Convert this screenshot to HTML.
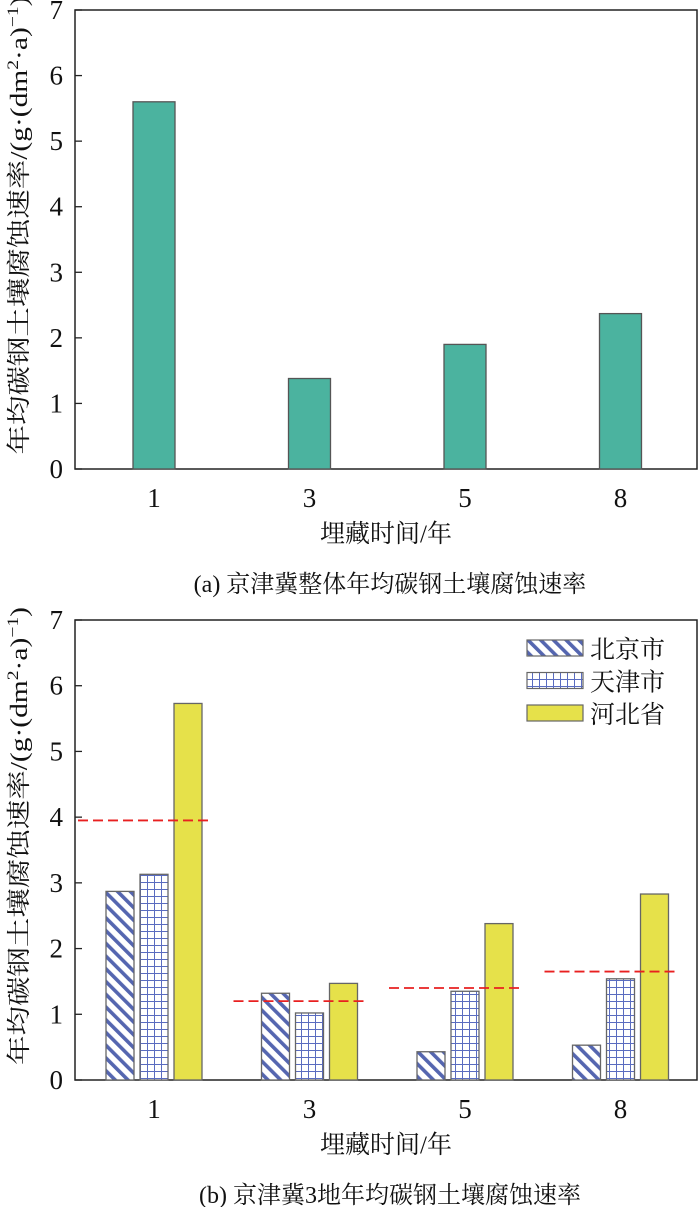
<!DOCTYPE html>
<html><head><meta charset="utf-8">
<style>
html,body{margin:0;padding:0;background:#fff;}
svg text{font-family:"Liberation Serif","Noto Serif CJK SC",serif;fill:#111;}
</style></head>
<body>
<svg id="root" width="700" height="1207" viewBox="0 0 700 1207" xmlns="http://www.w3.org/2000/svg">
<defs>
<pattern id="hatch" patternUnits="userSpaceOnUse" width="9" height="9" patternTransform="rotate(-45)">
<rect width="9" height="9" fill="#fff"/><rect x="0" y="0" width="3.6" height="9" fill="#5566b0"/>
</pattern>
<pattern id="grid" patternUnits="userSpaceOnUse" width="7" height="7" x="0" y="0">
<rect width="7" height="7" fill="#fff"/><path d="M0 0.5H7M0.5 0V7" stroke="#5a6cc0" stroke-width="1"/>
</pattern>
</defs>
<g id="chartA"></g>
<g id="chartB"></g>
</svg>
<script>
const catsA = ["1","3","5","8"];
const valsA = [5.6, 1.38, 1.9, 2.37];
const catsB = ["1","3","5","8"];
const beijing = [2.87, 1.32, 0.43, 0.53];
const tianjin = [3.13, 1.02, 1.35, 1.54];
const hebei = [5.73, 1.47, 2.38, 2.83];
const meanB = [3.95, 1.2, 1.4, 1.65];
const yTicks = [0,1,2,3,4,5,6,7];
const seriesNames = ["北京市","天津市","河北省"];

const NS="http://www.w3.org/2000/svg";
function mk(parent, tag, attrs, text){
  const e=document.createElementNS(NS,tag);
  for(const k in attrs) e.setAttribute(k,attrs[k]);
  if(text!==undefined) e.textContent=text;
  parent.appendChild(e); return e;
}
function makeAxes(g, top, bottom, left, right, cats, caption){
  const y=v=>bottom-(v/7)*(bottom-top);
  const x=i=>left+79+i*155.5;
  const frame=mk(g,'rect',{x:left,y:top,width:right-left,height:bottom-top,fill:'none',stroke:'#222','stroke-width':1.5});
  
  
  yTicks.forEach(t=>{
    const l=mk(g,'line',{x1:left,x2:left+7,y1:y(t),y2:y(t),stroke:'#222','stroke-width':1.3});
    
    
    const tx=mk(g,'text',{x:left-12,y:y(t)+9,'font-size':27,'text-anchor':'end'},String(t));
    
    
  });
  cats.forEach((c,i)=>{
    const l=mk(g,'line',{x1:x(i),x2:x(i),y1:bottom,y2:bottom-7,stroke:'#222','stroke-width':1.3});
    
    
    const tx=mk(g,'text',{x:x(i),y:bottom+38,'font-size':27,'text-anchor':'middle'},c);
    
    
  });
  const xt=mk(g,'text',{x:(left+right)/2,y:bottom+73,'font-size':25,'text-anchor':'middle'},'埋藏时间/年');
  
  
  const yt=mk(g,'text',{x:0,y:0,'font-size':24,'text-anchor':'middle',textLength:458,lengthAdjust:'spacingAndGlyphs',transform:`translate(27,${(top+bottom)/2-14}) rotate(-90)`});
  
  
  yt.innerHTML='年均碳钢土壤腐蚀速率/(g·(dm<tspan dy="-9" font-size="16">2</tspan><tspan dy="9">·a)</tspan><tspan dy="-9" font-size="16">−1</tspan><tspan dy="9">)</tspan>';
  const cap=mk(g,'text',{x:390,y:bottom+123,'font-size':24,'text-anchor':'middle'},caption);
  
  
  return {x,y};
}
const gA=document.getElementById('chartA');
const A=makeAxes(gA,10,469,75,697,catsA,'(a) 京津冀整体年均碳钢土壤腐蚀速率');
valsA.forEach((v,i)=>{
  const r=mk(gA,'rect',{x:A.x(i)-21,y:A.y(v),width:42,height:A.y(0)-A.y(v),fill:'#4bb39f',stroke:'#555','stroke-width':1.3});
  
  
});
const gB=document.getElementById('chartB');
const B=makeAxes(gB,620,1080,75,697,catsB,'(b) 京津冀3地年均碳钢土壤腐蚀速率');
const series=[beijing,tianjin,hebei];
const fills=['url(#hatch)','url(#grid)','#e6e14a'];
const offs=[-34,0,34];
series.forEach((s,si)=>{
  s.forEach((v,i)=>{
    const r=mk(gB,'rect',{x:B.x(i)+offs[si]-14,y:B.y(v),width:28,height:B.y(0)-B.y(v),fill:fills[si],stroke:'#666','stroke-width':1.3});
    
    
  });
});
meanB.forEach((v,i)=>{
  const l=mk(gB,'line',{x1:B.x(i)-76,x2:B.x(i)+55,y1:B.y(v),y2:B.y(v),stroke:'#e82020','stroke-width':1.8,'stroke-dasharray':'10 5'});
  
  
});
seriesNames.forEach((n,i)=>{
  const yy=640+i*32.5;
  const r=mk(gB,'rect',{x:527,y:yy,width:56,height:16,fill:fills[i],stroke:'#666','stroke-width':1.2});
  
  
  const t=mk(gB,'text',{x:590,y:yy+18,'font-size':25},n);
  
  
});
</script>
</body></html>
